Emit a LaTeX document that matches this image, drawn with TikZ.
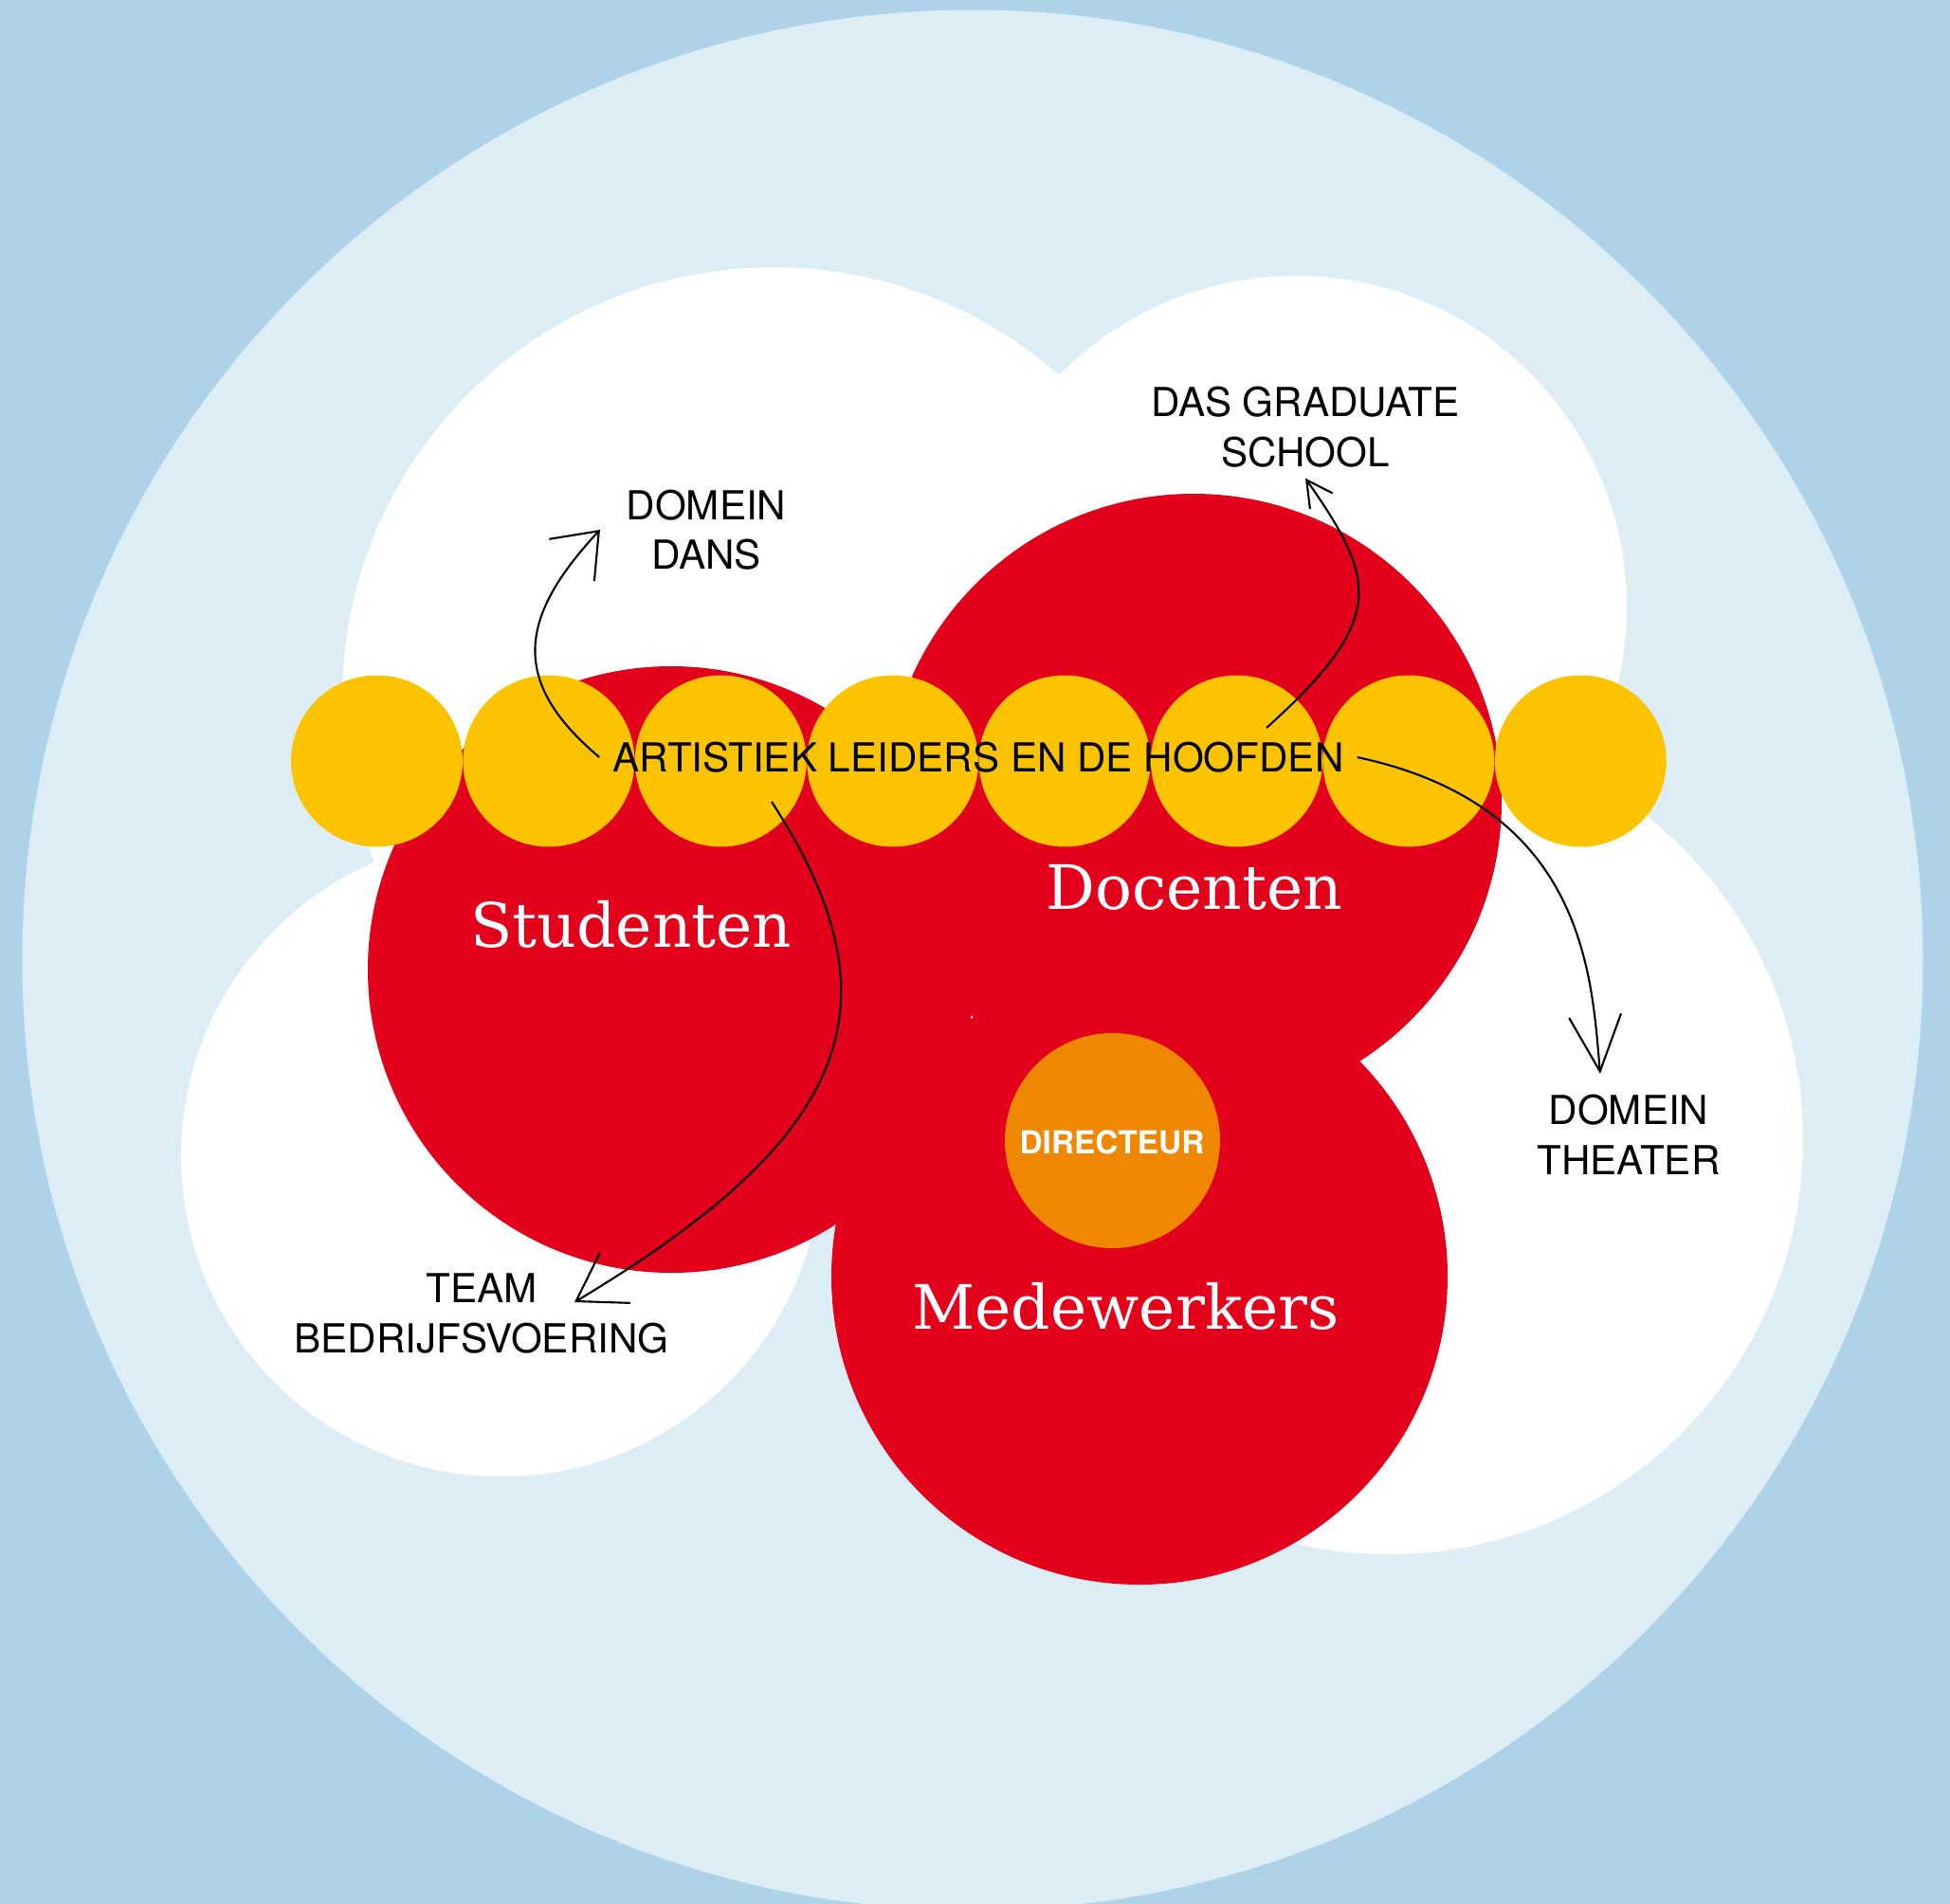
\documentclass[tikz,border=0pt]{standalone}
\usepackage{fontspec}
\setmainfont{TeX Gyre Heros}
\newfontfamily\slabfont{DejaVu Serif}
\usepackage{tikz}
\usetikzlibrary{arrows.meta}
\definecolor{skyblue}{HTML}{AED3E8}
\definecolor{paleblue}{HTML}{DCEDF6}
\definecolor{kunstred}{HTML}{E2001A}
\definecolor{kunstyellow}{HTML}{FCC400}
\definecolor{kunstorange}{HTML}{F08700}
\tikzset{>={Straight Barb[length=4.8mm,width=6.2mm]},
	pointer/.style={->, draw=black, line width=0.6pt},
	bubble/.style={% plain filled discs
		shape=circle,
		inner sep=0pt,
		outer sep=0pt
	},
	bead/.style={bubble, fill=kunstyellow, minimum size=1.81cm},
	group/.style={bubble, fill=kunstred},
	caption/.style={
		text=black,
		align=center,
		inner sep=0pt,
		font=\fontsize{12}{15}\selectfont
	},
	groupname/.style={
		text=white,
		inner sep=0pt,
		font=\slabfont\fontsize{18.4}{22}\selectfont
	}
}

\begin{document}
\begin{tikzpicture}
                        \useasboundingbox (0,0) rectangle (20.57,-20.09);
                        \clip (0,0) rectangle (20.57,-20.09);
                        \fill [skyblue] (0,0) rectangle (20.57,-20.09);
                        \fill [paleblue] (10.26,-10.13) circle (10.025);
                        % white clouds
                        \fill [white] (8.16,-7.37) circle (4.55);
                        \fill [white] (13.67,-6.40) circle (3.49);
                        \fill [white] (5.29,-12.20) circle (3.38);
                        \fill [white] (14.65,-12.03) circle (4.37);
                        % groups
                        \node [group, minimum size=6.4cm] (stud) at (7.08,-10.23) {};
                        \node [group, minimum size=6.5cm] (doc) at (12.59,-8.46) {};
                        \node [group, minimum size=6.5cm] (med) at (12.02,-13.47) {};
                        \node [bubble, fill=kunstorange, minimum size=2.27cm] (dir) at (11.735,-12.035) {};
                        % row of beads
                        \node [bead] (l1) at (3.975,-8.03) {};
                        \node [bead] (l2) at (5.789,-8.03) {};
                        \node [bead] (l3) at (7.603,-8.03) {};
                        \node [bead] (l4) at (9.417,-8.03) {};
                        \node [bead] (l5) at (11.231,-8.03) {};
                        \node [bead] (l6) at (13.045,-8.03) {};
                        \node [bead] (l7) at (14.859,-8.03) {};
                        \node [bead] (l8) at (16.673,-8.03) {};
                        % texts
                        \node [caption, inner sep=0.135cm] (lead) at (10.32,-7.99) {ARTISTIEK LEIDERS EN DE HOOFDEN};
                        \node [groupname] (studT) at (6.66,-9.75) {Studenten};
                        \node [groupname] (docT) at (12.60,-9.365) {Docenten};
                        \node [groupname] (medT) at (11.875,-13.78) {Medewerkers};
                        \node [text=white, inner sep=0pt, font=\bfseries\fontsize{9.5}{11}\selectfont] (dirT) at (11.73,-12.055) {DIRECTEUR};
                        \node [caption, inner sep=0.27cm] (dans) at (7.45,-5.59) {DOMEIN\\DANS};
                        \node [caption, inner sep=0.11cm] (das) at (13.77,-4.505) {DAS GRADUATE\\SCHOOL};
                        \node [caption] (theater) at (17.18,-11.975) {DOMEIN\\THEATER};
                        \node [caption] (team) at (5.08,-13.86) {TEAM\\BEDRIJFSVOERING};
                        \coordinate (dasFoot) at (13.36,-7.68);
                        \coordinate (teamFoot) at (8.14,-8.46);
                        \coordinate (theaterTip) at (16.88,-11.33);
                        \coordinate (teamTip) at (6.06,-13.74);
                        % arrows
                        \draw [pointer, >={Straight Barb[length=4.2mm,width=6.5mm]}] (lead.west) .. controls +(140:1.25) and +(227:1.25) .. (dans.west);
                        \draw [pointer, >={Straight Barb[length=2.7mm,width=2.9mm]}] (dasFoot) .. controls +(42:1.72) and +(305:1.31) .. (das.south);
                        \draw [pointer, >={Straight Barb[length=5.9mm,width=5.5mm]}] (lead.east) .. controls +(-12:2.46) and +(95:1.04) .. (theaterTip);
                        \draw [pointer] (teamFoot) .. controls +(-57:2.56) and +(31:3.41) .. (teamTip);
\end{tikzpicture}
\end{document}
